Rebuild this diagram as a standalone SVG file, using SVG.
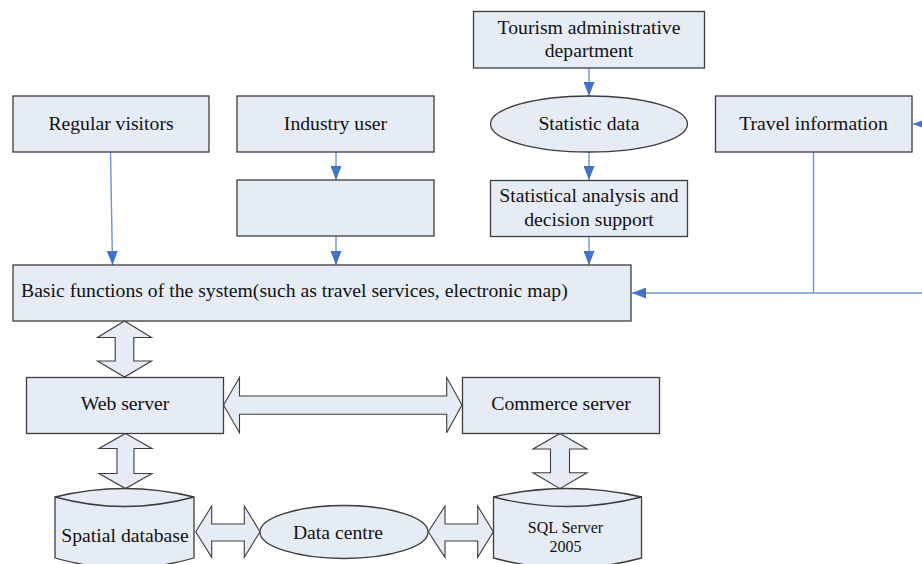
<svg xmlns="http://www.w3.org/2000/svg" width="922" height="564" viewBox="0 0 922 564">
  <defs>
    <marker id="arrow" markerUnits="userSpaceOnUse" viewBox="0 0 14 11" refX="14" refY="5.5" markerWidth="14" markerHeight="11" orient="auto">
      <path d="M0,0 L14,5.5 L0,11 Z" fill="#4472C4"/>
    </marker>
    <style>
      .box { fill: #E6ECF6; stroke: #3C3C3C; stroke-width: 1.3; }
      .block { fill: #E6ECF6; stroke: #3C3C3C; stroke-width: 1.1; stroke-linejoin: miter; }
      .line { fill: none; stroke: #6F95D2; stroke-width: 1.4; }
      .arr { marker-end: url(#arrow); }
      text { font-family: "Liberation Serif", "Times New Roman", serif; font-size: 19.7px; fill: #111; }
      .c { text-anchor: middle; }
      .small { font-size: 16px; }
    </style>
  </defs>

  <rect width="922" height="564" fill="#FFFFFF"/>

  <!-- thin flow connectors and block (double) arrows -->
  <g id="connectors">
    <line class="line arr" x1="110.5" y1="152" x2="112.5" y2="265"/>
    <line class="line arr" x1="336" y1="152" x2="336" y2="180"/>
    <line class="line arr" x1="336" y1="236" x2="336" y2="265"/>
    <line class="line arr" x1="589" y1="68" x2="589" y2="96"/>
    <line class="line arr" x1="589" y1="152" x2="589" y2="180"/>
    <line class="line arr" x1="589" y1="236" x2="589" y2="265"/>
    <line class="line arr" x1="922" y1="124" x2="913" y2="124"/>
    <line class="line" x1="813.5" y1="152" x2="813.5" y2="293"/>
    <line class="line arr" x1="922" y1="293" x2="632" y2="293"/>

    <!-- basic functions <-> web server -->
    <polygon class="block" points="124.5,321 151.5,337.5 133.8,337.5 133.8,361 151.5,361 124.5,377 97.5,361 115.2,361 115.2,337.5 97.5,337.5"/>
    <!-- web server <-> spatial database -->
    <polygon class="block" points="125.5,433.5 152,448.5 134,448.5 134,473.5 152,473.5 125.5,488.5 99,473.5 117,473.5 117,448.5 99,448.5"/>
    <!-- commerce server <-> SQL Server -->
    <polygon class="block" points="560,433.5 587,449 569.5,449 569.5,472.7 587,472.7 560,488.7 533,472.7 550.5,472.7 550.5,449 533,449"/>
    <!-- web server <-> commerce server -->
    <polygon class="block" points="223.5,405 239.5,377.5 239.5,396 446.7,396 446.7,377.5 462,405 446.7,432.7 446.7,414.3 239.5,414.3 239.5,432.7"/>
    <!-- spatial database <-> data centre -->
    <polygon class="block" points="195.7,531.7 211.7,506 211.7,524 244.3,524 244.3,506 260,531.7 244.3,557.3 244.3,541 211.7,541 211.7,557.3"/>
    <!-- data centre <-> SQL Server -->
    <polygon class="block" points="428.3,531.7 445,506 445,524 477.7,524 477.7,506 493.3,531.7 477.7,557.3 477.7,541 445,541 445,557.3"/>
  </g>

  <g id="regular-visitors">
    <rect class="box" x="13" y="96" width="196" height="56"/>
    <text class="c" x="111" y="130">Regular visitors</text>
  </g>

  <g id="industry-user">
    <rect class="box" x="237" y="96" width="197" height="56"/>
    <text class="c" x="335.5" y="130">Industry user</text>
  </g>

  <g id="blank-box">
    <rect class="box" x="237" y="180" width="197" height="56"/>
  </g>

  <g id="tourism-department">
    <rect class="box" x="473.5" y="11.5" width="231" height="56.5"/>
    <text class="c" x="589" y="33.5">Tourism administrative</text>
    <text class="c" x="589" y="56.5">department</text>
  </g>

  <g id="statistic-data">
    <ellipse class="box" cx="589" cy="124" rx="98.5" ry="28"/>
    <text class="c" x="589" y="130">Statistic data</text>
  </g>

  <g id="statistical-analysis">
    <rect class="box" x="490.5" y="180.5" width="197" height="56"/>
    <text class="c" x="589" y="202">Statistical analysis and</text>
    <text class="c" x="589" y="226">decision support</text>
  </g>

  <g id="travel-information">
    <rect class="box" x="715.5" y="96" width="196.5" height="56"/>
    <text class="c" x="813.5" y="130">Travel information</text>
  </g>

  <g id="basic-functions">
    <rect class="box" x="13" y="265" width="618" height="56"/>
    <text x="21" y="297">Basic functions of the system(such as travel services, electronic map)</text>
  </g>

  <g id="web-server">
    <rect class="box" x="26.5" y="377.5" width="197" height="56"/>
    <text class="c" x="125" y="410">Web server</text>
  </g>

  <g id="commerce-server">
    <rect class="box" x="462.5" y="377.5" width="197" height="56"/>
    <text class="c" x="561" y="410">Commerce server</text>
  </g>

  <g id="spatial-database">
    <path class="box" d="M55,497 Q124.5,480 194,497 L194,558 Q124.5,578 55,558 Z"/>
    <path class="box" d="M55,497 Q124.5,516 194,497" fill="none"/>
    <text class="c" x="125" y="541.5">Spatial database</text>
  </g>

  <g id="data-centre">
    <ellipse class="box" cx="344" cy="532" rx="84" ry="26.5"/>
    <text class="c" x="338" y="538.5">Data centre</text>
  </g>

  <g id="sql-server">
    <path class="box" d="M493.5,497 Q567.5,480 641.5,497 L641.5,558 Q567.5,578 493.5,558 Z"/>
    <path class="box" d="M493.5,497 Q567.5,516 641.5,497" fill="none"/>
    <text class="c small" x="565.5" y="533">SQL Server</text>
    <text class="c small" x="565.5" y="551.5">2005</text>
  </g>
</svg>
